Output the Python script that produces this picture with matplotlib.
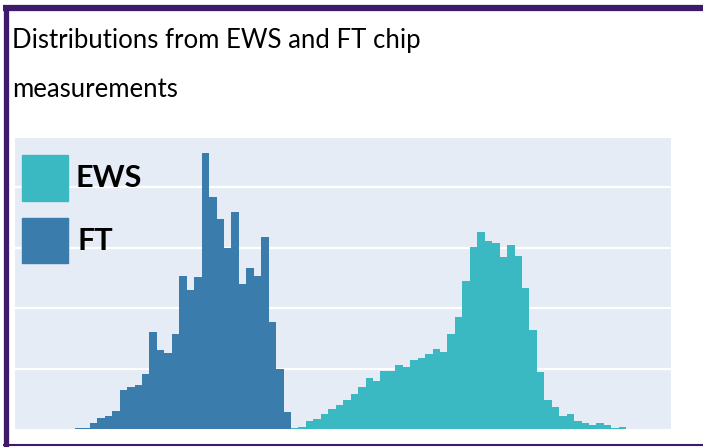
import matplotlib
matplotlib.use("Agg")
import matplotlib.pyplot as plt
from matplotlib.patches import Rectangle
from matplotlib.lines import Line2D
from matplotlib import font_manager

# histogram counts on a shared bin grid (bin index = position)
ft_start = 0
ft_counts = [0.2, 0.2, 1.9, 3.7, 4.3, 6.0, 12.9, 13.9, 14.5, 18.1,
             32.0, 26.0, 25.0, 31.5, 50.6, 45.9, 50.3, 91.1, 76.6, 69.4,
             59.7, 71.8, 47.8, 53.1, 50.7, 63.4, 35.5, 19.9, 5.5]

ews_start = 26
ews_counts = [0.2, 0.2, 0.2, 0.3, 0.6, 2.6, 3.2, 4.9, 6.7, 7.9,
              9.7, 11.6, 13.9, 16.9, 15.8, 19.3, 19.3, 21.2, 20.6, 22.9,
              23.6, 24.7, 26.5, 25.4, 31.4, 36.9, 48.9, 60.3, 65.1, 62.2,
              61.6, 56.8, 60.9, 57.3, 46.5, 32.6, 18.7, 9.7, 7.3, 4.3,
              4.9, 2.5, 2.0, 1.3, 1.9, 1.2, 0.2, 0.8, 0.1]

series_names = ["EWS", "FT"]
colors = {"EWS": "#3bb9c3", "FT": "#3a7cab"}
title_lines = ["Distributions from EWS and FT chip", "measurements"]

# narrow face for the title if we have one (reference looks like Calibri)
names = {f.name for f in font_manager.fontManager.ttflist}
title_font = "Liberation Sans Narrow" if "Liberation Sans Narrow" in names else "Lato"
title_size = 20 if title_font != "Lato" else 18.5

W, H = 703, 447
fig = plt.figure(figsize=(W / 100, H / 100), dpi=100)
fig.patch.set_facecolor("white")

# plot area in pixel coords
px_l, px_r, px_t, px_b = 15, 671, 138, 429
ax = fig.add_axes([px_l / W, (H - px_b) / H, (px_r - px_l) / W, (px_b - px_t) / H])
ax.set_facecolor("#e5ecf6")
for s in ax.spines.values():
    s.set_visible(False)
ax.set_xticks([])
ax.set_yticks([20, 40, 60, 80])
ax.tick_params(axis="y", length=0, labelleft=False)
ax.grid(axis="y", color="white", linewidth=1.6)
ax.set_axisbelow(True)

ews_x = list(range(ews_start, ews_start + len(ews_counts)))
ft_x = list(range(ft_start, ft_start + len(ft_counts)))
ax.bar(ews_x, ews_counts, width=1, align="edge", color=colors["EWS"], linewidth=0, zorder=2)
ax.bar(ft_x, ft_counts, width=1, align="edge", color=colors["FT"], linewidth=0, zorder=3)

ax.set_xlim(-8.05, 80.0)
ax.set_ylim(0, 96.2)

# legend: big squares with bold labels
for i, name in enumerate(series_names):
    top = 155 + i * 62.7
    fig.patches.append(Rectangle((22 / W, (H - top - 45.5) / H), 45.7 / W, 45.5 / H,
                                 transform=fig.transFigure, color=colors[name], zorder=5))
    fig.text((75 + 2 * i) / W, (H - top - 23) / H, name, fontsize=22, fontweight="bold",
             family="Lato", va="center", ha="left", color="black", zorder=6)

# title, two lines placed on their baselines
for line, base in zip(title_lines, [48, 97]):
    fig.text(12 / W, (H - base) / H, line, fontsize=title_size, family=title_font,
             va="baseline", ha="left", color="black")

# purple frame (top, left, bottom)
purple = "#3e1a6b"
fig.lines.append(Line2D([3 / W, 1], [(H - 8) / H] * 2, transform=fig.transFigure,
                        color=purple, linewidth=4.5, solid_capstyle="butt"))
fig.lines.append(Line2D([5.5 / W] * 2, [0, (H - 5) / H], transform=fig.transFigure,
                        color=purple, linewidth=3.8, solid_capstyle="butt"))
fig.lines.append(Line2D([3 / W, 1], [(H - 445) / H] * 2, transform=fig.transFigure,
                        color=purple, linewidth=1.5, solid_capstyle="butt"))

fig.savefig("out.png", dpi=100)
